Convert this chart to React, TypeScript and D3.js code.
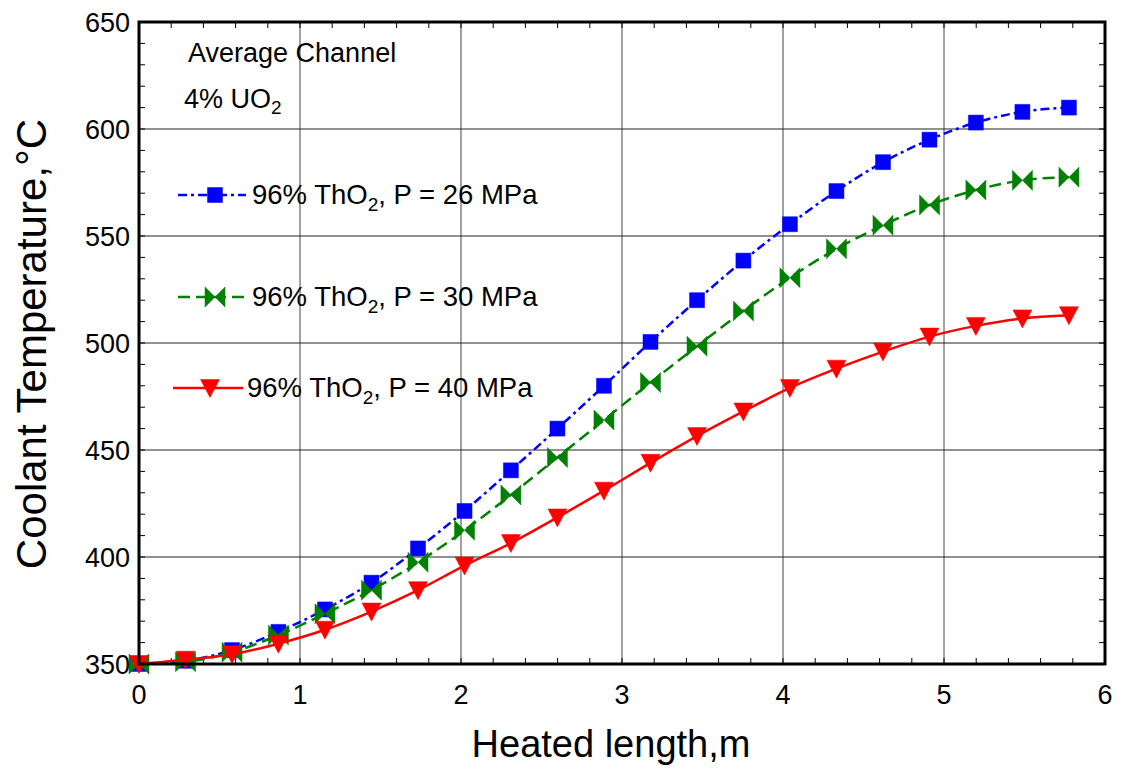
import React from "react";
import * as d3 from "d3";

// heated length positions (m)
const lengths = [0, 0.289, 0.578, 0.866, 1.155, 1.444, 1.733, 2.022, 2.31, 2.599, 2.888,
  3.177, 3.466, 3.754, 4.043, 4.332, 4.621, 4.91, 5.198, 5.487, 5.776];

const temp26 = [350, 351.5, 356.5, 365, 375.5, 388, 404, 421.5, 440.5, 460, 480,
  500.5, 520, 538.5, 555.5, 571, 584.5, 595, 603, 608, 610];
const temp30 = [350, 351, 355.5, 363.5, 373.5, 384.5, 397.5, 412.5, 429, 446.5, 464,
  481.5, 498.5, 515, 530.5, 544, 555, 564.5, 571.5, 576, 577.5];
const temp40 = [350, 352, 354.5, 359.5, 366, 374.5, 384.5, 396, 406.5, 418.5, 431,
  444, 456.5, 468, 479, 488, 496, 503, 508, 511.5, 513];

const xTicks = [0, 1, 2, 3, 4, 5, 6];
const yTicks = [350, 400, 450, 500, 550, 600, 650];
const pressures = ["26", "30", "40"];

const font = "'Liberation Sans', Arial, sans-serif";
const margin = { left: 139, right: 16, top: 22, bottom: 105 };
const W = 1121, H = 769;

type Marker = "square" | "bowtie" | "triangle";

const series = [
  { values: temp26, color: "#0000ff", dash: "9,4,3,4", marker: "square" as Marker },
  { values: temp30, color: "#008000", dash: "12,6", marker: "bowtie" as Marker },
  { values: temp40, color: "#ff0000", dash: null, marker: "triangle" as Marker },
];

function markerPath(kind: Marker) {
  if (kind === "square") return "M-7.5,-7.5H7.5V7.5H-7.5Z";
  if (kind === "bowtie") return "M-10,-10L0,0L-10,10Z M10,-10L0,0L10,10Z";
  return "M-9.5,-8.5H9.5L0,9.5Z";
}

function Sym({ kind, x, y, color }: { kind: Marker; x: number; y: number; color: string }) {
  return <path d={markerPath(kind)} transform={`translate(${x},${y})`} fill={color} stroke={color} strokeWidth={0.5} />;
}

export default function App() {
  const iw = W - margin.left - margin.right;
  const ih = H - margin.top - margin.bottom;
  const x = d3.scaleLinear().domain([0, 6]).range([margin.left, margin.left + iw]);
  const y = d3.scaleLinear().domain([350, 650]).range([margin.top + ih, margin.top]);
  const x0 = x.range()[0], x1 = x.range()[1];
  const y0 = y.range()[0], y1 = y.range()[1];

  const line = d3.line<number>()
    .x((_, i) => x(lengths[i]))
    .y(d => y(d))
    .curve(d3.curveMonotoneX);

  const xMinor = d3.range(0, 6.0001, 0.2);
  const yMinor = d3.range(350, 650.001, 10);

  const legendRows = [
    { cy: 195, lx1: 178, lx2: 246, mx: 215, tx: 252 },
    { cy: 297, lx1: 178, lx2: 250, mx: 215, tx: 252 },
    { cy: 388, lx1: 173, lx2: 243, mx: 210, tx: 247 },
  ];

  return (
    <svg width={W} height={H} style={{ position: "absolute", left: 0, top: 0, background: "#fff" }} fontFamily={font}>
      <rect width={W} height={H} fill="#fff" />
      <defs>
        <clipPath id="plot">
          <rect x={x0 - 12} y={y1} width={iw + 12} height={ih + 12} />
        </clipPath>
      </defs>

      {/* grid */}
      {xTicks.slice(1, -1).map(t => (
        <line key={"gx" + t} x1={x(t)} x2={x(t)} y1={y0} y2={y1} stroke="#444" strokeWidth={1} />
      ))}
      {yTicks.slice(1, -1).map(t => (
        <line key={"gy" + t} x1={x0} x2={x1} y1={y(t)} y2={y(t)} stroke="#222" strokeWidth={1} />
      ))}

      {/* minor ticks, inside, all four sides */}
      {xMinor.map(t => (
        <g key={"mx" + t}>
          <line x1={x(t)} x2={x(t)} y1={y0} y2={y0 - 6} stroke="#000" strokeWidth={1} />
          <line x1={x(t)} x2={x(t)} y1={y1} y2={y1 + 6} stroke="#000" strokeWidth={1} />
        </g>
      ))}
      {yMinor.map(t => (
        <g key={"my" + t}>
          <line x1={x0} x2={x0 + 6} y1={y(t)} y2={y(t)} stroke="#000" strokeWidth={1} />
          <line x1={x1} x2={x1 - 6} y1={y(t)} y2={y(t)} stroke="#000" strokeWidth={1} />
        </g>
      ))}

      {/* series */}
      <g clipPath="url(#plot)">
        {series.map((s, k) => (
          <g key={"s" + k}>
            <path d={line(s.values) || ""} fill="none" stroke={s.color} strokeWidth={2.5}
              strokeDasharray={s.dash || undefined} />
            {s.values.map((v, i) => (
              <Sym key={i} kind={s.marker} x={x(lengths[i])} y={y(v)} color={s.color} />
            ))}
          </g>
        ))}
      </g>

      {/* frame */}
      <rect x={x0} y={y1} width={iw} height={ih} fill="none" stroke="#000" strokeWidth={3} />

      {/* tick labels */}
      {yTicks.map(t => (
        <text key={"ty" + t} x={x0 - 9} y={y(t)} dy="0.36em" textAnchor="end" fontSize={27}>{t}</text>
      ))}
      {xTicks.map(t => (
        <text key={"tx" + t} x={x(t)} y={704} textAnchor="middle" fontSize={27}>{t}</text>
      ))}

      {/* axis titles */}
      <text x={611} y={757} textAnchor="middle" fontSize={38}>Heated length,m</text>
      <text transform="translate(46,344) rotate(-90)" textAnchor="middle" fontSize={42}>Coolant Temperature,°C</text>

      {/* annotations */}
      <text x={188} y={62} fontSize={27}>Average Channel</text>
      <text x={184} y={108} fontSize={27}>4% UO<tspan fontSize={19} dy={6}>2</tspan></text>

      {/* legend */}
      {series.map((s, k) => {
        const r = legendRows[k];
        return (
          <g key={"lg" + k}>
            <line x1={r.lx1} x2={r.lx2} y1={r.cy} y2={r.cy} stroke={s.color} strokeWidth={2.5}
              strokeDasharray={s.dash || undefined} />
            <Sym kind={s.marker} x={r.mx} y={r.cy} color={s.color} />
            <text x={r.tx} y={r.cy + 9} fontSize={27.5}>
              96% ThO<tspan fontSize={19} dy={7}>2</tspan><tspan dy={-7}>, P = {pressures[k]} MPa</tspan>
            </text>
          </g>
        );
      })}
    </svg>
  );
}
